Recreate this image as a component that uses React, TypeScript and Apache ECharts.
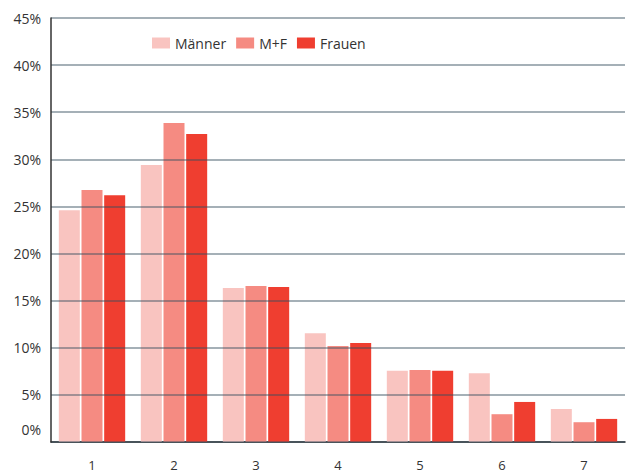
import React, { useEffect, useRef } from "react";
import * as echarts from "echarts";

const categories = ["1", "2", "3", "4", "5", "6", "7"];
const maenner = [24.6, 29.4, 16.35, 11.55, 7.55, 7.3, 3.5];
const mf = [26.75, 33.85, 16.55, 10.2, 7.65, 2.95, 2.1];
const frauen = [26.2, 32.7, 16.45, 10.5, 7.55, 4.25, 2.45];
const seriesNames = ["Männer", "M+F", "Frauen"];
const colors = ["#f9c4c0", "#f58b82", "#ef3e30"];

export default function App() {
  const ref = useRef<HTMLDivElement>(null);
  useEffect(() => {
    if (!ref.current) return;
    const chart = echarts.init(ref.current, undefined, { renderer: "svg" });
    const data = [maenner, mf, frauen];
    chart.setOption({
      animation: false,
      textStyle: { fontFamily: "Open Sans" },
      legend: {
        top: 31,
        left: 147,
        itemWidth: 18,
        itemHeight: 11,
        itemGap: 10,
        icon: "rect",
        textStyle: { fontSize: 14, color: "#333", fontFamily: "Open Sans" },
        data: seriesNames,
      },
      grid: { left: 51, top: 18, right: 5, bottom: 31, containLabel: false },
      xAxis: {
        type: "category",
        data: categories,
        axisLine: { lineStyle: { color: "#222", width: 1.5 } },
        axisTick: { inside: true, length: 10, lineStyle: { color: "#222", width: 1.5 } },
        axisLabel: { color: "#333", fontSize: 13, margin: 16, fontFamily: "Open Sans" },
      },
      yAxis: {
        type: "value",
        min: 0,
        max: 45,
        interval: 5,
        z: 5,
        axisLine: { show: true, lineStyle: { color: "#333", width: 1.5 } },
        axisTick: { show: false },
        axisLabel: {
          color: "#333",
          fontSize: 14,
          margin: 10,
          fontFamily: "Open Sans",
          formatter: (v: number) => (v === 0 ? "{z|0%}" : v + "%"),
          rich: { z: { fontSize: 14, color: "#333", fontFamily: "Open Sans", padding: [0, 0, 26, 0] } },
        },
        splitLine: { lineStyle: { color: "rgba(55,78,95,0.6)", width: 1.5 } },
      },
      series: data.map((d, i) => ({
        name: seriesNames[i],
        type: "bar",
        data: d,
        barWidth: 21,
        barGap: "8%",
        itemStyle: { color: colors[i] },
        z: 2,
      })),
    });
    return () => chart.dispose();
  }, []);
  return <div ref={ref} style={{ width: 630, height: 473, position: "absolute", left: 0, top: 0 }} />;
}
